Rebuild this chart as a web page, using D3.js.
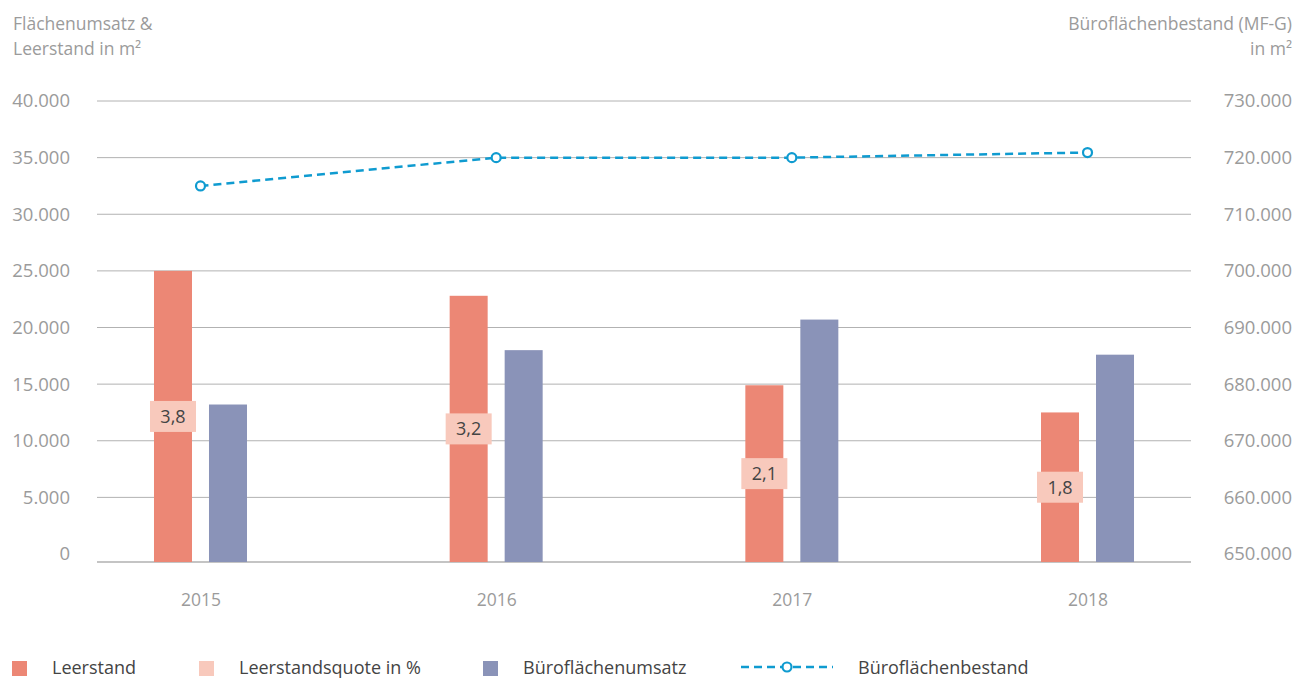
<!DOCTYPE html>
<html><head><meta charset="utf-8">
<script src="https://cdn.jsdelivr.net/npm/d3@7"></script>
<style>body{margin:0;background:#fff} text{font-family:"Open Sans",sans-serif}</style>
</head><body><svg id="c" width="1298" height="679"></svg>
<script>
const years = ["2015", "2016", "2017", "2018"];
const leerstand = [25000, 22800, 14900, 12500];
const quote = [3.8, 3.2, 2.1, 1.8];
const umsatz = [13200, 18000, 20700, 17600];
const bestand = [715000, 720000, 720000, 720900];
const leftTicks = [0, 5000, 10000, 15000, 20000, 25000, 30000, 35000, 40000];
const rightTicks = [650000, 660000, 670000, 680000, 690000, 700000, 710000, 720000, 730000];
const legendItems = ["Leerstand", "Leerstandsquote in %", "Büroflächenumsatz", "Büroflächenbestand"];

const C = {leer: "#ec8775", quote: "#f8c9bc", ums: "#8a93b8", line: "#0f9bd0", grid: "#b2b2b2", axis: "#9b9b9b", dark: "#444"};
const loc = d3.formatLocale({decimal: ",", thousands: ".", grouping: [3], currency: ["", "€"]});
const fInt = loc.format(",");
const fDec = loc.format(".1f");

const svg = d3.select("#c");
const L = 97, R = 1191, T = 101, B = 554, baseOff = 8;
const x = d3.scalePoint().domain(years).range([L, R]).padding(0.35);
const y = d3.scaleLinear().domain([0, 40000]).range([B, T]);
const y2 = d3.scaleLinear().domain([650000, 730000]).range([B, T]);
const baseY = y(0) + baseOff;
const bw = 38, off = 27.5;

// grid
svg.append("g").selectAll("line").data(leftTicks.filter(d => d > 0)).join("line")
  .attr("x1", L).attr("x2", R).attr("y1", d => y(d)).attr("y2", d => y(d))
  .attr("stroke", C.grid).attr("stroke-width", 1);
svg.append("line").attr("x1", L).attr("x2", R).attr("y1", baseY).attr("y2", baseY)
  .attr("stroke", "#c4c4c4").attr("stroke-width", 2);

// axes
const ax = svg.append("g").attr("transform", `translate(70,0)`)
  .call(d3.axisLeft(y).tickValues(leftTicks).tickFormat(fInt).tickSize(0).tickPadding(0));
const ax2 = svg.append("g").attr("transform", `translate(1292,0)`)
  .call(d3.axisLeft(y2).tickValues(rightTicks).tickFormat(fInt).tickSize(0).tickPadding(0));
[ax, ax2].forEach(a => {
  a.select(".domain").remove();
  a.selectAll("text").attr("fill", C.axis).style("font-size", "18.5px").style("font-family", '"Open Sans",sans-serif');
});
const xa = svg.append("g").attr("transform", `translate(0,${baseY + 44})`)
  .call(d3.axisBottom(x).tickSize(0).tickPadding(0));
xa.select(".domain").remove();
xa.selectAll("text").attr("fill", C.axis).attr("dy", "0").style("font-size", "17.5px").style("font-family", '"Open Sans",sans-serif');

// titles
const t1 = svg.append("text").attr("x", 13).attr("y", 30).attr("fill", C.axis).style("font-size", "17.5px");
t1.append("tspan").attr("x", 13).text("Flächenumsatz &");
t1.append("tspan").attr("x", 13).attr("dy", 25).text("Leerstand in m²");
const t2 = svg.append("text").attr("x", 1292).attr("y", 30).attr("fill", C.axis).attr("text-anchor", "end").style("font-size", "17.5px");
t2.append("tspan").attr("x", 1292).text("Büroflächenbestand (MF-G)");
t2.append("tspan").attr("x", 1292).attr("dy", 25).text("in m²");

// bars
svg.append("g").selectAll("rect").data(years).join("rect")
  .attr("x", (d) => x(d) - off - bw / 2).attr("width", bw)
  .attr("y", (d, i) => y(leerstand[i])).attr("height", (d, i) => baseY - y(leerstand[i]))
  .attr("fill", C.leer);
svg.append("g").selectAll("rect").data(years).join("rect")
  .attr("x", (d) => x(d) + off - bw / 2).attr("width", bw)
  .attr("y", (d, i) => y(umsatz[i])).attr("height", (d, i) => baseY - y(umsatz[i]))
  .attr("fill", C.ums);

// quote labels
const ql = svg.append("g").selectAll("g").data(years).join("g")
  .attr("transform", (d, i) => `translate(${x(d) - off},${(y(leerstand[i]) + baseY) / 2})`);
ql.append("rect").attr("x", -23).attr("y", -15.5).attr("width", 46).attr("height", 31).attr("fill", C.quote);
ql.append("text").attr("text-anchor", "middle").attr("dy", "0.35em").attr("fill", C.dark)
  .style("font-size", "18px").text((d, i) => fDec(quote[i]));

// line
const line = d3.line().x((d, i) => x(years[i])).y(d => y2(d));
svg.append("path").datum(bestand).attr("d", line).attr("fill", "none")
  .attr("stroke", C.line).attr("stroke-width", 2.5).attr("stroke-dasharray", "8,5");
svg.append("g").selectAll("circle").data(bestand).join("circle")
  .attr("cx", (d, i) => x(years[i])).attr("cy", d => y2(d)).attr("r", 4.5)
  .attr("fill", "#fff").attr("stroke", C.line).attr("stroke-width", 2.2);

// legend
const lg = svg.append("g");
const lx = [12, 199, 483];
[C.leer, C.quote, C.ums].forEach((c, i) => {
  lg.append("rect").attr("x", lx[i]).attr("y", 661).attr("width", 15).attr("height", 15).attr("fill", c);
  lg.append("text").attr("x", lx[i] + 40).attr("y", 674).attr("fill", C.dark).style("font-size", "18px").text(legendItems[i]);
});
lg.append("line").attr("x1", 741).attr("x2", 833).attr("y1", 667).attr("y2", 667)
  .attr("stroke", C.line).attr("stroke-width", 2.5).attr("stroke-dasharray", "8,5");
lg.append("circle").attr("cx", 787).attr("cy", 667).attr("r", 4.5).attr("fill", "#fff")
  .attr("stroke", C.line).attr("stroke-width", 2.2);
lg.append("text").attr("x", 858).attr("y", 674).attr("fill", C.dark).style("font-size", "18px").text(legendItems[3]);
</script></body></html>
